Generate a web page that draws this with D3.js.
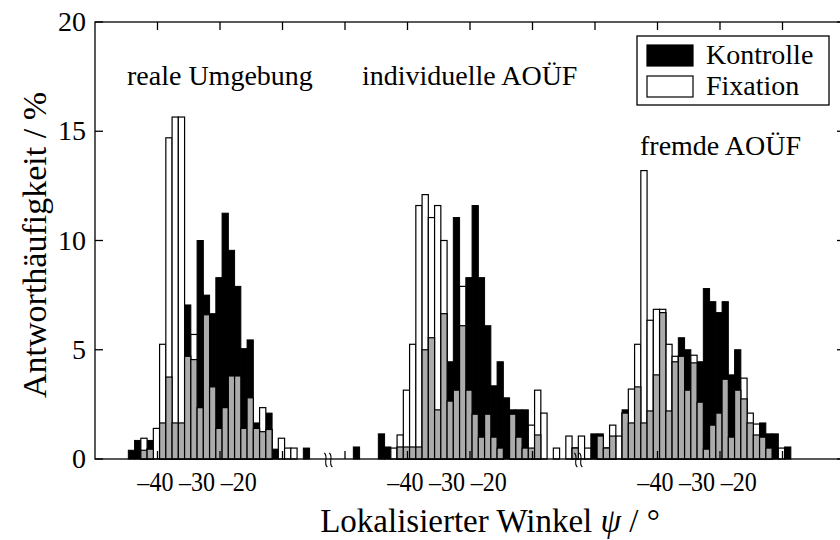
<!DOCTYPE html>
<html>
<head>
<meta charset="utf-8">
<script src="https://cdn.jsdelivr.net/npm/d3@7/dist/d3.min.js"></script>
<style>
body { margin: 0; background: #fff; }
text { font-family: "Liberation Serif", "Times New Roman", serif; fill: #000; }
</style>
</head>
<body>
<div class="canvas"></div>
<script>
var width = 840,
	height = 540;

// Antworthaeufigkeit in %, Klassenbreite 1.5 Grad
var binWidth = 1.5;
var groupNames = ["reale Umgebung", "individuelle AOÜF", "fremde AOÜF"];
var groupShift = [0, 60, 120];
var groupStart = [-46.5, -52.5, -61.5];

var kontrolle1 = [0.4, 0.85, 0.4, 0.85, 0, 1.65, 3.75, 1.65, 1.65, 7.05, 4.55, 10.0, 7.5, 6.65, 8.3,
	11.25, 9.55, 7.9, 5.05, 5.45, 1.65, 1.25, 2.1, 0.45, 0, 0, 0, 0, 0.5];
var fixation1 = [0, 0, 0.95, 0.45, 1.4, 5.25, 14.7, 15.65, 15.65, 4.7, 5.7, 2.35, 6.6, 3.3, 1.4,
	2.35, 3.8, 3.8, 1.4, 2.8, 1.4, 2.35, 1.35, 0, 0.95, 0.5, 0.5, 0, 0];

var kontrolle2 = [0.55, 0, 0, 0, 1.15, 0.55, 0, 0.55, 0.55, 0.55, 0.55, 5.0, 5.55, 2.25, 6.65, 4.45,
	11.05, 6.1, 8.3, 11.6, 8.3, 6.1, 3.35, 4.45, 2.8, 2.25, 2.25, 2.25, 0.5, 1.1, 0, 0, 0, 0];
var fixation2 = [0, 0, 0, 0, 0, 0, 0.5, 1.1, 3.15, 5.25, 11.6, 12.1, 11.05, 11.6, 10.0, 2.65,
	3.15, 7.9, 3.15, 2.05, 1.0, 2.05, 1.0, 0.5, 0, 2.05, 1.0, 0.5, 1.55, 3.15, 2.1, 0, 0.5, 0];

var kontrolle3 = [0, 0.5, 0, 0, 1.15, 1.15, 0.5, 1.05, 0, 2.25, 1.65, 3.3, 1.65, 2.2, 3.85, 6.7,
	2.2, 4.45, 5.55, 5.0, 4.4, 4.45, 7.8, 7.2, 6.7, 7.2, 3.85, 5.0, 2.75, 1.65, 1.1, 1.65, 1.15, 1.15, 0, 0.55];
var fixation3 = [1.05, 0.5, 1.05, 0.5, 0, 1.05, 0.5, 1.55, 1.05, 2.1, 3.2, 5.25, 13.2, 6.35, 6.85, 6.85,
	5.25, 4.7, 4.7, 3.15, 4.75, 2.6, 0.45, 1.55, 2.1, 3.65, 1.0, 3.15, 3.7, 2.1, 1.6, 1.0, 0.5, 0, 0.5, 0];

var kontrolle = [kontrolle1, kontrolle2, kontrolle3];
var fixation = [fixation1, fixation2, fixation3];

var xTickLabels = [-40, -30, -20];
var yTicks = [0, 5, 10, 15, 20];
var frameTicks = [15, 30, 45, 60, 75, 90, 105, 120, 135, 150, 165];
var breakMarks = [56, 116];
var labelZero = 54.5; // Winkel 0 liegt bei 54.5 auf der Achse

var canvas = d3.select(".canvas")
	.append("svg")
	.attr("width", width)
	.attr("height", height);

var x = d3.scaleLinear()
	.domain([0, 180])
	.range([95, 845]);

var y = d3.scaleLinear()
	.domain([0, 20])
	.range([459, 22]);

var bw = x(binWidth) - x(0);

/* ---------- bars ---------- */
var bars = canvas.append("g");

for (var g = 0; g < 3; g++) {
	var rows = kontrolle[g].map(function(k, i) {
		return {
			pos: groupStart[g] + labelZero + groupShift[g] + i * binWidth,
			k: k,
			f: fixation[g][i]
		};
	});

	bars.selectAll(".k" + g)
		.data(rows.filter(function(d) { return d.k > 0; }))
		.enter().append("rect")
		.attr("x", function(d) { return x(d.pos); })
		.attr("y", function(d) { return y(d.k); })
		.attr("width", bw)
		.attr("height", function(d) { return y(0) - y(d.k); })
		.attr("fill", "black")
		.attr("stroke", "black")
		.attr("stroke-width", 1);

	bars.selectAll(".f" + g)
		.data(rows.filter(function(d) { return d.f > 0; }))
		.enter().append("rect")
		.attr("x", function(d) { return x(d.pos); })
		.attr("y", function(d) { return y(d.f); })
		.attr("width", bw)
		.attr("height", function(d) { return y(0) - y(d.f); })
		.attr("fill", "white")
		.attr("stroke", "black")
		.attr("stroke-width", 1.2);

	bars.selectAll(".o" + g)
		.data(rows.filter(function(d) { return Math.min(d.k, d.f) > 0; }))
		.enter().append("rect")
		.attr("x", function(d) { return x(d.pos); })
		.attr("y", function(d) { return y(Math.min(d.k, d.f)); })
		.attr("width", bw)
		.attr("height", function(d) { return y(0) - y(Math.min(d.k, d.f)); })
		.attr("fill", "#ababab")
		.attr("stroke", "black")
		.attr("stroke-width", 1.2);
}

/* ---------- frame ---------- */
var frame = canvas.append("g")
	.attr("fill", "none")
	.attr("stroke", "black")
	.attr("stroke-width", 1.3);

frame.append("rect")
	.attr("x", x(0))
	.attr("y", y(20))
	.attr("width", x(180) - x(0))
	.attr("height", y(0) - y(20));

frameTicks.forEach(function(t) {
	frame.append("line")
		.attr("x1", x(t)).attr("x2", x(t))
		.attr("y1", y(20)).attr("y2", y(20) + 8);
	frame.append("line")
		.attr("x1", x(t)).attr("x2", x(t))
		.attr("y1", y(0)).attr("y2", y(0) - 8);
});

yTicks.forEach(function(t) {
	frame.append("line")
		.attr("x1", x(0)).attr("x2", x(0) + 8)
		.attr("y1", y(t)).attr("y2", y(t));
	frame.append("line")
		.attr("x1", x(180)).attr("x2", x(180) - 8)
		.attr("y1", y(t)).attr("y2", y(t));
});

// Achsenbruch-Zeichen
breakMarks.forEach(function(b) {
	[-2.5, 2.5].forEach(function(dx) {
		var cx = x(b) + dx, cy = y(0) + 1;
		frame.append("path")
			.attr("stroke-width", 1.1)
			.attr("d", "M" + (cx - 1.5) + "," + (cy - 7) +
				" C" + (cx + 3) + "," + (cy - 3) + " " + (cx - 3) + "," + (cy + 3) + " " + (cx + 1.5) + "," + (cy + 7));
	});
});

/* ---------- labels ---------- */
yTicks.forEach(function(t) {
	canvas.append("text")
		.attr("x", x(0) - 9)
		.attr("y", y(t) + 9)
		.attr("text-anchor", "end")
		.attr("font-size", 28)
		.text(t);
});

groupShift.forEach(function(s) {
	xTickLabels.forEach(function(a) {
		canvas.append("text")
			.attr("transform", "translate(" + x(a + labelZero + s) + ",491) scale(0.86,1)")
			.attr("text-anchor", "middle")
			.attr("font-size", 28)
			.text("\u2013" + Math.abs(a));
	});
});

canvas.append("text")
	.attr("x", 127).attr("y", 85)
	.attr("font-size", 28)
	.text(groupNames[0]);
canvas.append("text")
	.attr("x", 362).attr("y", 85)
	.attr("font-size", 28)
	.text(groupNames[1]);
canvas.append("text")
	.attr("x", 640).attr("y", 155)
	.attr("font-size", 28)
	.text(groupNames[2]);

var xl = canvas.append("text")
	.attr("x", 490).attr("y", 532)
	.attr("text-anchor", "middle")
	.attr("font-size", 33);
xl.append("tspan").text("Lokalisierter Winkel ");
xl.append("tspan").attr("font-style", "italic").text("\u03c8");
xl.append("tspan").text(" / \u00b0");

canvas.append("text")
	.attr("transform", "translate(46,245) rotate(-90)")
	.attr("text-anchor", "middle")
	.attr("font-size", 34)
	.text("Antworthäufigkeit / %");

/* ---------- legend ---------- */
var legend = canvas.append("g");
legend.append("rect")
	.attr("x", 637).attr("y", 36)
	.attr("width", 192).attr("height", 69)
	.attr("fill", "white")
	.attr("stroke", "black")
	.attr("stroke-width", 1.3);

var legendItems = [["Kontrolle", "black"], ["Fixation", "white"]];
legendItems.forEach(function(it, i) {
	legend.append("rect")
		.attr("x", 647).attr("y", 45 + i * 31)
		.attr("width", 46).attr("height", 21)
		.attr("fill", it[1])
		.attr("stroke", "black")
		.attr("stroke-width", 1.2);
	legend.append("text")
		.attr("x", 706).attr("y", 64 + i * 31)
		.attr("font-size", 28)
		.text(it[0]);
});
</script>
</body>
</html>
